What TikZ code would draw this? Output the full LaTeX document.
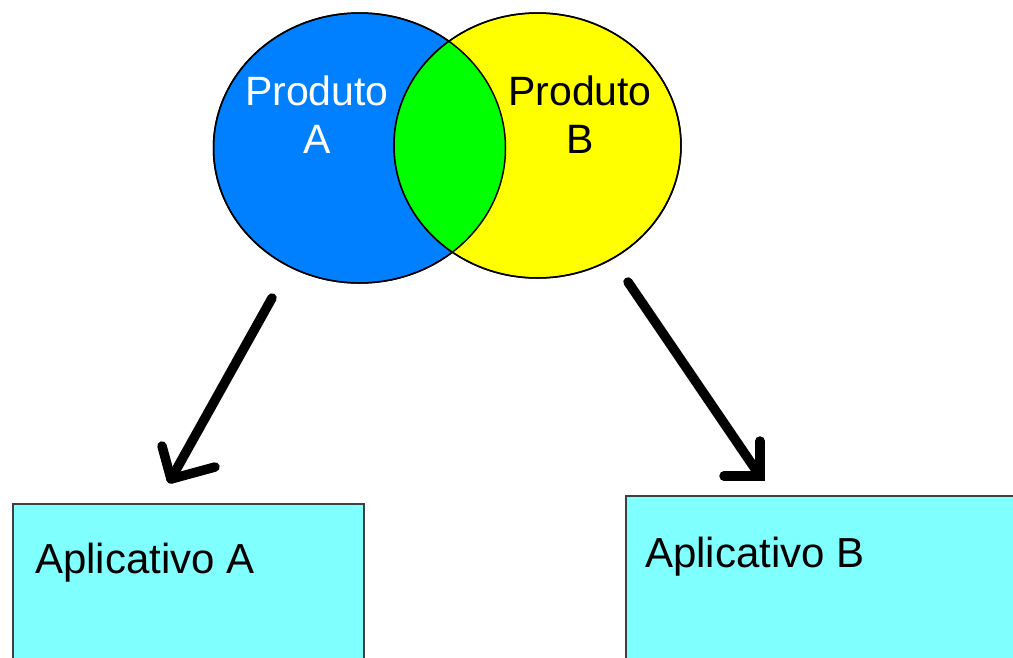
\documentclass[tikz,border=0pt]{standalone}
\usepackage{fontspec}
\setmainfont{Liberation Sans}
\usetikzlibrary{shapes.geometric}
\definecolor{prodA}{HTML}{0080FF}
\definecolor{prodB}{HTML}{FFFF00}
\definecolor{both}{HTML}{00FF00}
\definecolor{appfill}{HTML}{80FFFF}
\definecolor{appedge}{HTML}{404040}
\tikzset{
  setA/.style={ellipse, draw=black, line width=1.5pt, fill=prodA, inner sep=0pt, outer sep=0pt,
    minimum width=292pt, minimum height=270pt},
  setB/.style={ellipse, draw=black, line width=1.5pt, fill=prodB, inner sep=0pt, outer sep=0pt,
    minimum width=287pt, minimum height=265pt},
  appbox/.style={draw=appedge, line width=2pt, fill=appfill, anchor=north west,
    minimum height=200pt, inner sep=0pt},
  bigtext/.style={font=\fontsize{41}{48}\selectfont, inner sep=0pt, align=center},
  apptext/.style={font=\fontsize{42}{48}\selectfont, inner sep=0pt, anchor=base west},
  arrowline/.style={line width=9.5pt, line cap=round, line join=round, black},
}
\begin{document}
\begin{tikzpicture}[x=1pt,y=-1pt]
\useasboundingbox (0,0) rectangle (1013,657);
\clip (0,0) rectangle (1013,657);

% the two product sets
\node[setA] (pa) at (359.5,148) {};
\node[setB] (pb) at (537.5,145.5) {};
% overlap of the two sets
\begin{scope}
  \clip (pa.center) ellipse [x radius=146pt, y radius=135pt];
  \fill[both] (pb.center) ellipse [x radius=143.5pt, y radius=132.5pt];
\end{scope}
\draw[line width=1.5pt] (pa.center) ellipse [x radius=146pt, y radius=135pt];
\draw[line width=1.5pt] (pb.center) ellipse [x radius=143.5pt, y radius=132.5pt];

\node[bigtext, text=white, anchor=north] (ta) at (317,76) {Produto\\A};
\node[bigtext, text=black, anchor=north] (tb) at (580,76) {Produto\\B};

% application boxes
\node[appbox, minimum width=351pt] (appA) at (12,503) {};
\node[appbox, minimum width=420pt] (appB) at (625,495) {};
\node[apptext] (la) at (35,573) {Aplicativo A};
\node[apptext] (lb) at (645,567) {Aplicativo B};

% hand-drawn arrows
\coordinate (a0) at (272,298);
\coordinate (a1) at (171,479);
\coordinate (a2) at (162,446);
\coordinate (a3) at (215,467);
\draw[arrowline] (a0) -- (a1);
\draw[arrowline] (a2) -- (a1) -- (a3);

\coordinate (b0) at (628,282);
\coordinate (b1) at (760,476);
\coordinate (b2) at (760,441);
\coordinate (b3) at (724,476);
\draw[arrowline] (b0) -- (b1);
\draw[arrowline, line join=miter] (b2) -- (b1) -- (b3);
\end{tikzpicture}
\end{document}
